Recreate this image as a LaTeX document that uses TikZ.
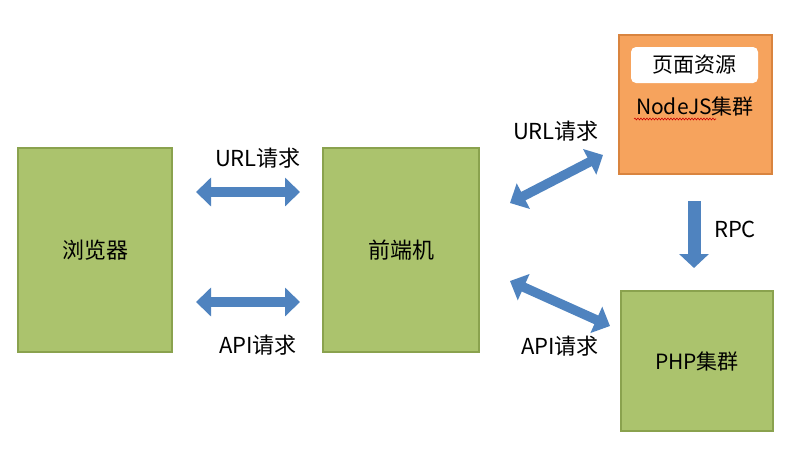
\documentclass[tikz,border=0pt]{standalone}
\usepackage{fontspec}
\setmainfont{Noto Sans CJK SC}
\usetikzlibrary{arrows.meta,decorations.pathmorphing}
\definecolor{boxgreen}{HTML}{ABC36D}
\definecolor{boxgreenline}{HTML}{8AA24E}
\definecolor{boxorange}{HTML}{F6A35D}
\definecolor{boxorangeline}{HTML}{D9843F}
\definecolor{arrowblue}{HTML}{4F83BF}
\begin{document}
\begin{tikzpicture}[x=1pt,y=-1pt,
  gbox/.style={draw=boxgreenline, fill=boxgreen, line width=1.3pt, inner sep=0pt, font=\fontsize{22}{26}\selectfont},
  obox/.style={draw=boxorangeline, fill=boxorange, line width=1.3pt, inner sep=0pt},
  wbox/.style={fill=white, rounded corners=5pt, inner sep=0pt, minimum width=127pt, minimum height=36pt, font=\fontsize{21}{25}\selectfont},
  lbl/.style={font=\fontsize{22}{26}\selectfont, inner sep=0pt},
  dblarrow/.style={draw=arrowblue, line width=9.5pt, {Triangle[width=28pt,length=15pt]}-{Triangle[width=28pt,length=15pt]}},
  onearrow/.style={draw=arrowblue, line width=13pt, -{Triangle[width=29pt,length=14pt]}}
]
\useasboundingbox (0,0) rectangle (800,461);
\fill[white] (0,0) rectangle (800,461);

\node[gbox, minimum width=154pt, minimum height=204pt] (browser) at (95,250) {浏览器};
\node[gbox, minimum width=156pt, minimum height=204pt] (front) at (401,250) {前端机};
\node[obox, minimum width=153pt, minimum height=139pt] (nodejs) at (695.5,104.5) {};
\node[wbox] (res) at (694.5,65) {页面资源};
\node[lbl, font=\fontsize{21}{25}\selectfont] (nodejslbl) at (695,106) {NodeJS集群};
\node[gbox, font=\fontsize{21}{25}\selectfont, minimum width=152pt, minimum height=140pt] (php) at (697,361) {PHP集群};

\coordinate (a1s) at (196,192); \coordinate (a1e) at (300,192);
\coordinate (a2s) at (196,302); \coordinate (a2e) at (300,302);
\coordinate (a3s) at (510,203); \coordinate (a3e) at (603,155);
\coordinate (a4s) at (510,281); \coordinate (a4e) at (610,326);
\coordinate (a5s) at (694,201); \coordinate (a5e) at (694,268);

\draw[dblarrow] (a1s) -- (a1e);
\draw[dblarrow] (a2s) -- (a2e);
\draw[dblarrow] (a3s) -- (a3e);
\draw[dblarrow] (a4s) -- (a4e);
\draw[onearrow] (a5s) -- (a5e);

\node[lbl] (l1) at (258,158) {URL请求};
\node[lbl] (l2) at (258,345) {API请求};
\node[lbl] (l3) at (556,131) {URL请求};
\node[lbl] (l4) at (560,346) {API请求};
\node[lbl] (l5) at (735,229) {RPC};

\coordinate (sq1) at (634,119); \coordinate (sq2) at (716,119);
\draw[red!80!black, line width=0.6pt, decorate, decoration={snake, amplitude=0.9pt, segment length=3pt}] (sq1) -- (sq2);
\end{tikzpicture}
\end{document}
